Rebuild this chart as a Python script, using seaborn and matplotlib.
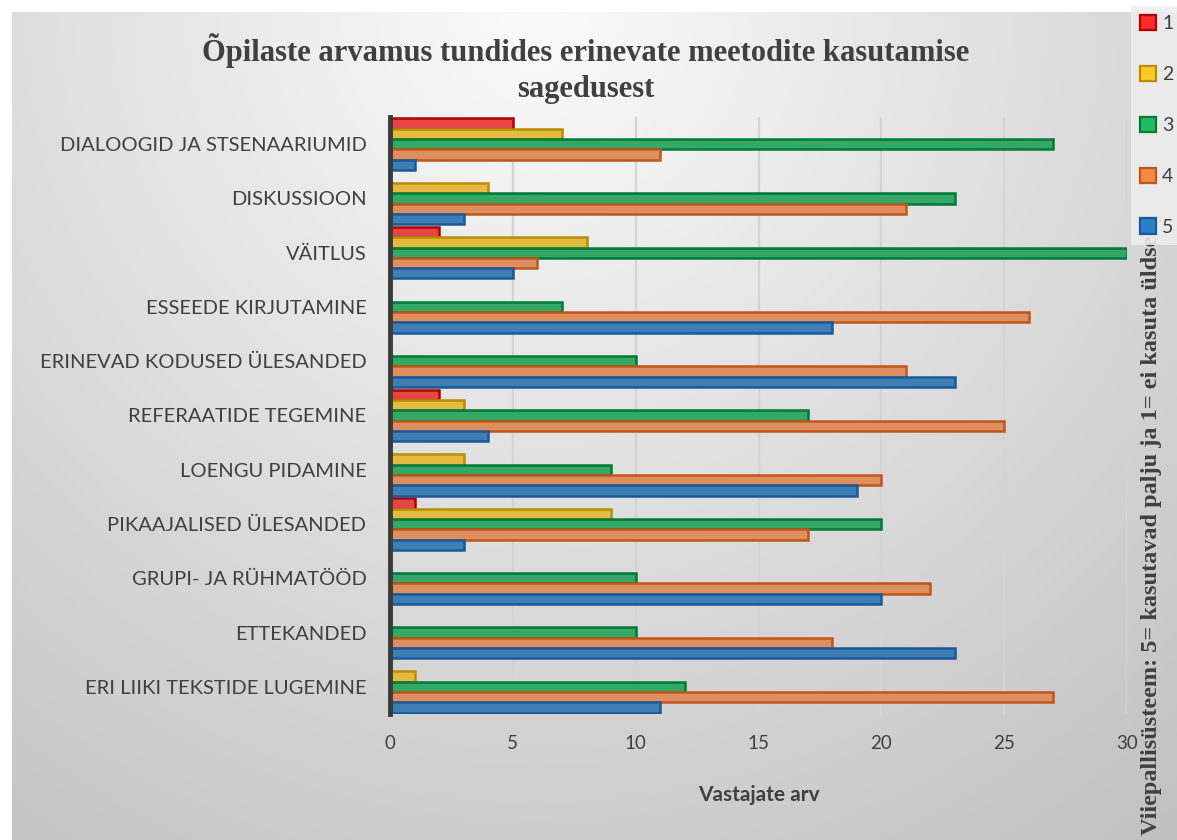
import numpy as np
import pandas as pd
import matplotlib
matplotlib.use("Agg")
import matplotlib.pyplot as plt
import seaborn as sns
from matplotlib.patches import Patch

categories = [
    "DIALOOGID JA STSENAARIUMID",
    "DISKUSSIOON",
    "VÄITLUS",
    "ESSEEDE KIRJUTAMINE",
    "ERINEVAD KODUSED ÜLESANDED",
    "REFERAATIDE TEGEMINE",
    "LOENGU PIDAMINE",
    "PIKAAJALISED ÜLESANDED",
    "GRUPI- JA RÜHMATÖÖD",
    "ETTEKANDED",
    "ERI LIIKI TEKSTIDE LUGEMINE",
]
series_names = ["1", "2", "3", "4", "5"]
s1 = [5, 0, 2, 0, 0, 2, 0, 1, 0, 0, 0]
s2 = [7, 4, 8, 0, 0, 3, 3, 9, 0, 0, 1]
s3 = [27, 23, 30, 7, 10, 17, 9, 20, 10, 10, 12]
s4 = [11, 21, 6, 26, 21, 25, 20, 17, 22, 18, 27]
s5 = [1, 3, 5, 18, 23, 4, 19, 3, 20, 23, 11]
x_ticks = [0, 5, 10, 15, 20, 25, 30]

title = "Õpilaste arvamus tundides erinevate meetodite kasutamise\nsagedusest"
xlabel = "Vastajate arv"
side_note = "Viiepallisüsteem: 5= kasutavad palju ja 1= ei kasuta üldse"

face_colors = ["#FF2A2A", "#FFC825", "#22BB63", "#F28A4A", "#2A80C8"]
edge_colors = ["#B50000", "#B88E00", "#00793A", "#C2561A", "#1A5A9A"]

rows = []
for name, vals in zip(series_names, [s1, s2, s3, s4, s5]):
    for c, v in zip(categories, vals):
        rows.append({"method": c, "score": name, "count": v})
df = pd.DataFrame(rows)

sns.set_theme(style="white")
plt.rcParams["font.family"] = ["DejaVu Sans"]

W, H = 1177, 840
fig = plt.figure(figsize=(W / 100, H / 100), dpi=100)
fig.patch.set_facecolor("white")

# gradient background
bgax = fig.add_axes([12 / W, 0, 1 - 12 / W, 1 - 12 / H], zorder=-10)
xx, yy = np.meshgrid(np.linspace(0, 1, 300), np.linspace(0, 1, 300))
r = np.sqrt(((xx - 0.45) / 0.7) ** 2 + (yy / 1.0) ** 2)
val = np.clip(251 - 46 * r, 192, 252) / 255.0
img = np.dstack([val, val, val])
bgax.imshow(img, aspect="auto", extent=[0, 1, 0, 1], origin="upper")
bgax.axis("off")

ax = fig.add_axes([390 / W, 1 - 714 / H, (1127 - 390) / W, (714 - 117) / H])
ax.set_facecolor("none")

sns.barplot(
    data=df, y="method", x="count", hue="score",
    order=categories, hue_order=series_names, orient="h",
    palette=face_colors, width=0.95, ax=ax, legend=False,
)
for i, cont in enumerate(ax.containers):
    for bar in cont:
        bar.set_edgecolor(edge_colors[i])
        bar.set_linewidth(1.8)
        bar.set_zorder(3)

ax.set_xlim(0, 30)
ax.set_xticks(x_ticks)
ax.set_xticklabels([str(t) for t in x_ticks], fontsize=13.5, color="#404040",
                   family=["Lato", "DejaVu Sans"])
ax.set_yticks(range(len(categories)))
ax.set_yticklabels(categories, fontsize=14.5, color="#404040",
                   family=["Lato", "DejaVu Sans"])
ax.tick_params(axis="both", length=0)
ax.tick_params(axis="y", pad=17)
ax.tick_params(axis="x", pad=15)
ax.set_ylabel("")
ax.set_xlabel(xlabel, fontsize=15, fontweight="bold", color="#404040",
              family=["Lato", "DejaVu Sans"], labelpad=24)
ax.xaxis.grid(True, color="#D4D4D4", linewidth=1.6, zorder=0)
ax.set_axisbelow(True)
for s in ["top", "right", "bottom"]:
    ax.spines[s].set_visible(False)
ax.spines["left"].set_color("#3A3A3A")
ax.spines["left"].set_linewidth(3.5)
ax.spines["left"].set_zorder(5)

fig.text(586 / W, 1 - 69 / H, title, ha="center", va="center",
         fontsize=22, fontweight="bold", color="#404040",
         family=["Liberation Serif", "DejaVu Serif"], linespacing=1.32)

fig.text(1151 / W, 5 / H, side_note, rotation=90, ha="center", va="bottom",
         fontsize=17.5, fontweight="bold", color="#404040",
         family=["Liberation Serif", "DejaVu Serif"], zorder=1)

handles = [Patch(facecolor=f, edgecolor=e, linewidth=1.6)
           for f, e in zip(face_colors, edge_colors)]
leg = fig.legend(handles, series_names, loc="upper left",
                 bbox_to_anchor=(1131 / W, 1 - 6 / H), frameon=True,
                 borderaxespad=0, labelspacing=1.72, handlelength=0.85,
                 handleheight=0.85, handletextpad=0.3, borderpad=0.45,
                 prop={"family": ["Lato", "DejaVu Sans"], "size": 14})
leg.set_zorder(5)
leg.get_frame().set_facecolor("#EDEDED")
leg.get_frame().set_edgecolor("none")
leg.get_frame().set_alpha(0.88)
leg.get_frame().set_boxstyle("square", pad=0)
for t in leg.get_texts():
    t.set_color("#404040")

fig.savefig("out.png", dpi=100)
